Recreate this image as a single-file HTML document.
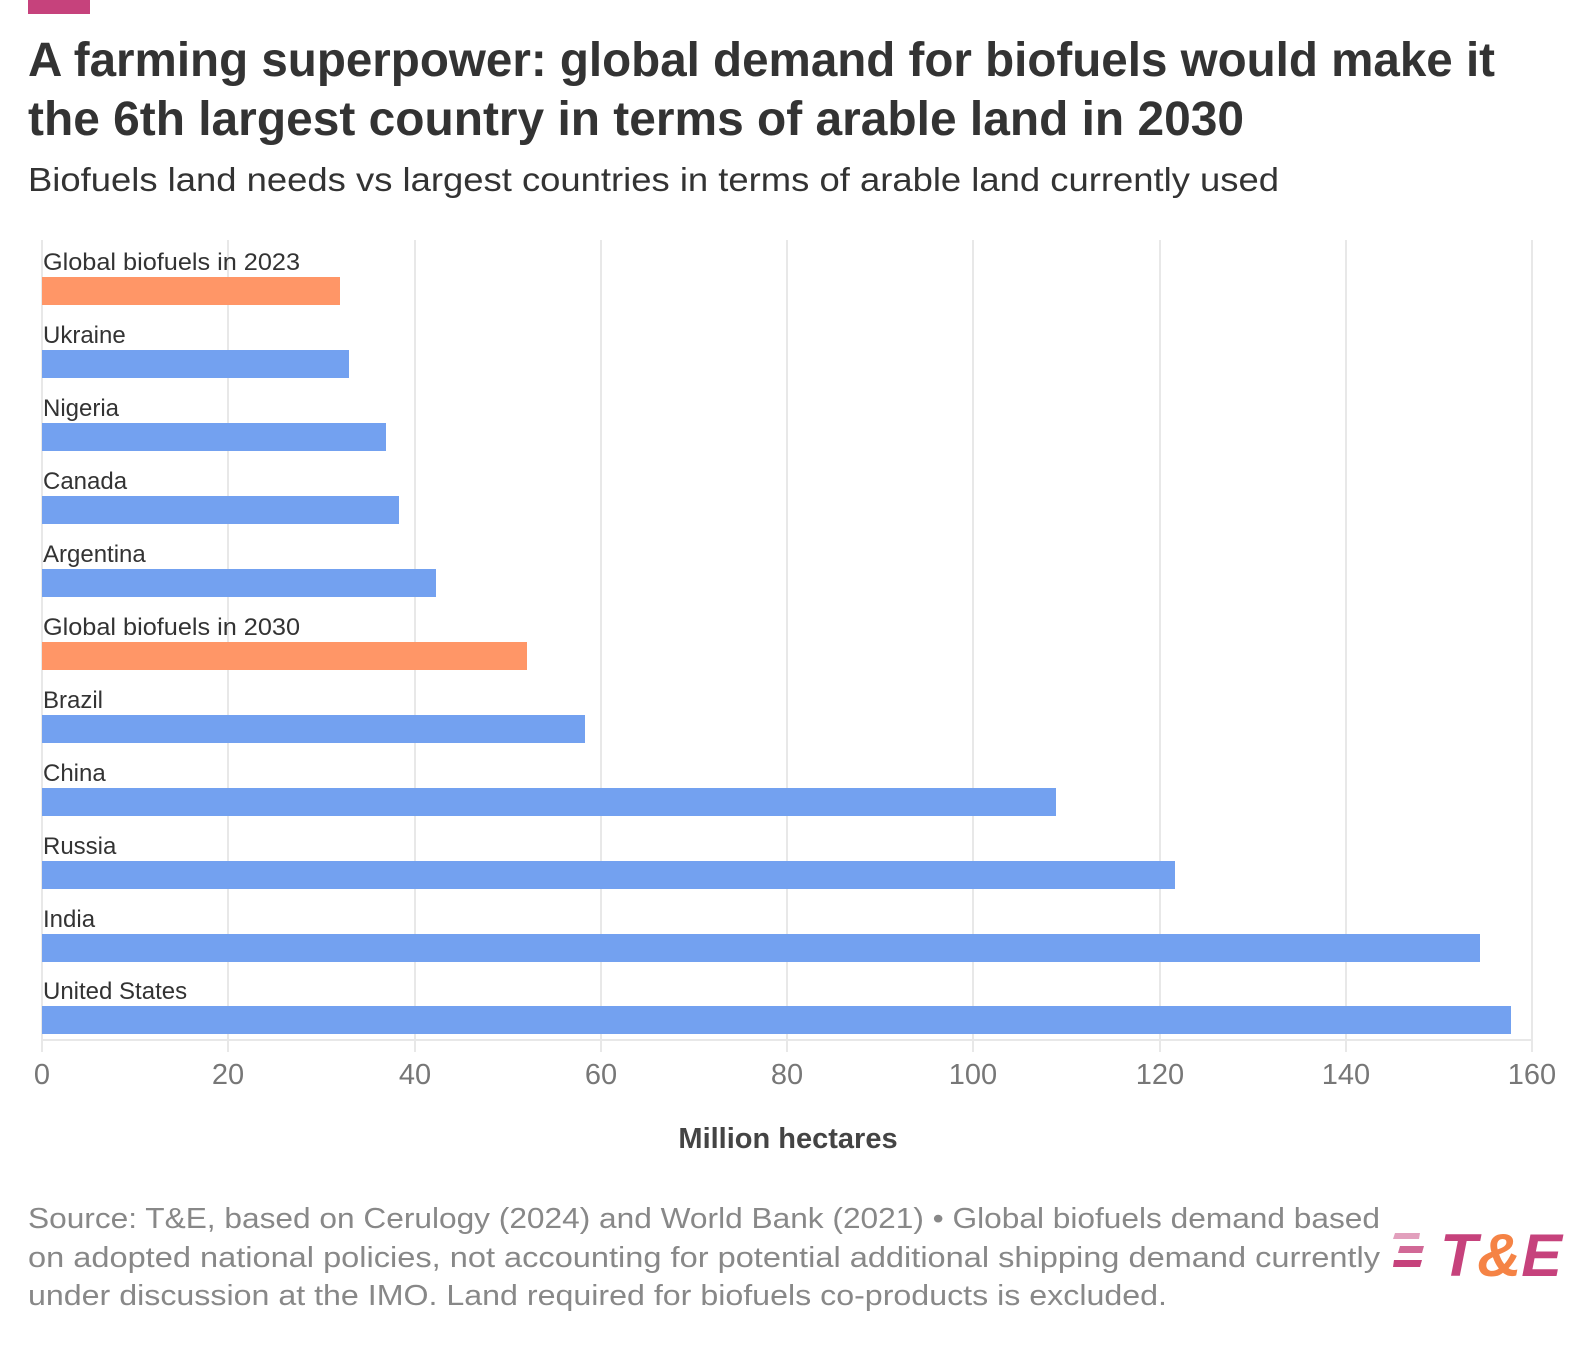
<!DOCTYPE html>
<html><head><meta charset="utf-8"><style>html,body{margin:0;padding:0;background:#fff}</style></head>
<body>
<svg width="1590" height="1342" viewBox="0 0 1590 1342" xmlns="http://www.w3.org/2000/svg" font-family="Liberation Sans, sans-serif">
<rect x="28" y="0" width="62" height="14" fill="#c6427c"/>
<text x="28" y="76" font-size="48" font-weight="bold" fill="#333" textLength="1467" lengthAdjust="spacingAndGlyphs">A farming superpower: global demand for biofuels would make it</text>
<text x="28" y="135" font-size="48" font-weight="bold" fill="#333" textLength="1216" lengthAdjust="spacingAndGlyphs">the 6th largest country in terms of arable land in 2030</text>
<text x="28" y="191" font-size="33" fill="#333" textLength="1251" lengthAdjust="spacingAndGlyphs">Biofuels land needs vs largest countries in terms of arable land currently used</text>
<g stroke="#e8e8e8" stroke-width="2">
<line x1="42" y1="240" x2="42" y2="1052"/>
<line x1="228" y1="240" x2="228" y2="1052"/>
<line x1="415" y1="240" x2="415" y2="1052"/>
<line x1="601" y1="240" x2="601" y2="1052"/>
<line x1="787" y1="240" x2="787" y2="1052"/>
<line x1="973" y1="240" x2="973" y2="1052"/>
<line x1="1160" y1="240" x2="1160" y2="1052"/>
<line x1="1346" y1="240" x2="1346" y2="1052"/>
<line x1="1532" y1="240" x2="1532" y2="1052"/>
<line x1="42" y1="1040" x2="1532" y2="1040"/>
</g>
<g font-size="24" fill="#333">
<rect x="42" y="277" width="298" height="28" fill="#ff9667"/><text x="43" y="270" textLength="257" lengthAdjust="spacingAndGlyphs">Global biofuels in 2023</text>
<rect x="42" y="350" width="307" height="28" fill="#73a1f0"/><text x="43" y="343">Ukraine</text>
<rect x="42" y="423" width="344" height="28" fill="#73a1f0"/><text x="43" y="416">Nigeria</text>
<rect x="42" y="496" width="357" height="28" fill="#73a1f0"/><text x="43" y="489">Canada</text>
<rect x="42" y="569" width="394" height="28" fill="#73a1f0"/><text x="43" y="562">Argentina</text>
<rect x="42" y="642" width="485" height="28" fill="#ff9667"/><text x="43" y="635" textLength="257" lengthAdjust="spacingAndGlyphs">Global biofuels in 2030</text>
<rect x="42" y="715" width="543" height="28" fill="#73a1f0"/><text x="43" y="708">Brazil</text>
<rect x="42" y="788" width="1014" height="28" fill="#73a1f0"/><text x="43" y="781">China</text>
<rect x="42" y="861" width="1133" height="28" fill="#73a1f0"/><text x="43" y="854">Russia</text>
<rect x="42" y="934" width="1438" height="28" fill="#73a1f0"/><text x="43" y="927">India</text>
<rect x="42" y="1006" width="1469" height="28" fill="#73a1f0"/><text x="43" y="999">United States</text>
</g>
<g font-size="29" fill="#777" text-anchor="middle">
<text x="42" y="1084">0</text><text x="228" y="1084">20</text><text x="415" y="1084">40</text>
<text x="601" y="1084">60</text><text x="787" y="1084">80</text><text x="973" y="1084">100</text>
<text x="1160" y="1084">120</text><text x="1346" y="1084">140</text><text x="1532" y="1084">160</text>
</g>
<text x="788" y="1148" font-size="29" font-weight="bold" fill="#444" text-anchor="middle">Million hectares</text>
<g font-size="29" fill="#888">
<text x="28" y="1228" textLength="1352" lengthAdjust="spacingAndGlyphs">Source: T&amp;E, based on Cerulogy (2024) and World Bank (2021) • Global biofuels demand based</text>
<text x="28" y="1267" textLength="1352" lengthAdjust="spacingAndGlyphs">on adopted national policies, not accounting for potential additional shipping demand currently</text>
<text x="28" y="1305" textLength="1139" lengthAdjust="spacingAndGlyphs">under discussion at the IMO. Land required for biofuels co-products is excluded.</text>
</g>
<g fill="#c6427c">
<polygon points="1395,1233 1420,1233 1419,1239 1393,1239" opacity="0.5"/>
<polygon points="1400,1246 1424,1246 1422,1253 1398,1253" opacity="0.8"/>
<polygon points="1394,1260 1422,1260 1420,1267 1393,1267"/>
</g>
<text x="1440" y="1276" font-size="60" font-weight="bold" font-style="italic" fill="#c6427c" textLength="122" lengthAdjust="spacingAndGlyphs">T<tspan fill="#f58345">&amp;</tspan>E</text>
</svg>
</body></html>
